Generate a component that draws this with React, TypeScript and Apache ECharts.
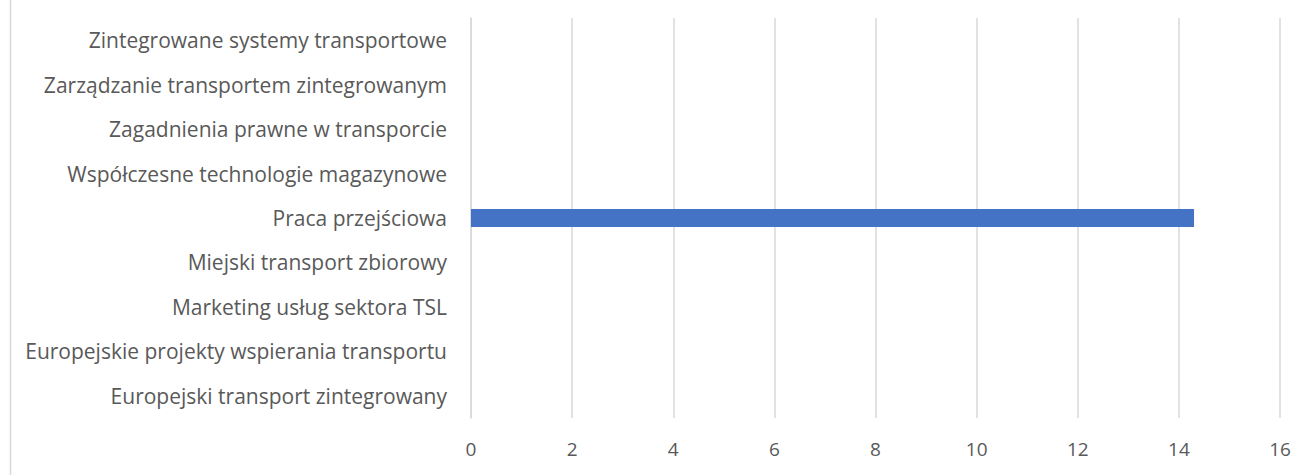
import React, { useEffect, useRef } from "react";
import * as echarts from "echarts";

const categories = [
  "Europejski transport zintegrowany",
  "Europejskie projekty wspierania transportu",
  "Marketing usług sektora TSL",
  "Miejski transport zbiorowy",
  "Praca przejściowa",
  "Współczesne technologie magazynowe",
  "Zagadnienia prawne w transporcie",
  "Zarządzanie transportem zintegrowanym",
  "Zintegrowane systemy transportowe",
];
const values = [0, 0, 0, 0, 14.3, 0, 0, 0, 0];
const xMin = 0;
const xMax = 16;
const xInterval = 2;

export default function App() {
  const ref = useRef<HTMLDivElement>(null);
  useEffect(() => {
    document.body.style.margin = "0";
    const chart = echarts.init(ref.current!, null, { renderer: "svg" });
    const font = "'Open Sans', sans-serif";
    chart.setOption({
      animation: false,
      backgroundColor: "#ffffff",
      grid: { left: 471, right: 31, top: 18, bottom: 57, containLabel: false },
      xAxis: {
        type: "value",
        min: xMin,
        max: xMax,
        interval: xInterval,
        axisLine: { show: false },
        axisTick: { show: false },
        splitLine: { show: true, lineStyle: { color: "#d9d9d9", width: 1.5 } },
        axisLabel: { color: "#595959", fontSize: 19, fontFamily: font, margin: 21 },
      },
      yAxis: {
        type: "category",
        data: categories,
        axisLine: { show: true, lineStyle: { color: "#d9d9d9", width: 1.5 } },
        axisTick: { show: false },
        axisLabel: { color: "#595959", fontSize: 21, fontFamily: font, margin: 24 },
      },
      series: [
        {
          type: "bar",
          data: values,
          barWidth: "40%",
          itemStyle: { color: "#4472C4" },
        },
      ],
      graphic: [
        {
          type: "line",
          shape: { x1: 10.5, y1: 0, x2: 10.5, y2: 475 },
          style: { stroke: "#d9d9d9", lineWidth: 1.5 },
        },
      ],
    });
    return () => chart.dispose();
  }, []);
  return <div ref={ref} style={{ width: 1311, height: 475 }} />;
}
